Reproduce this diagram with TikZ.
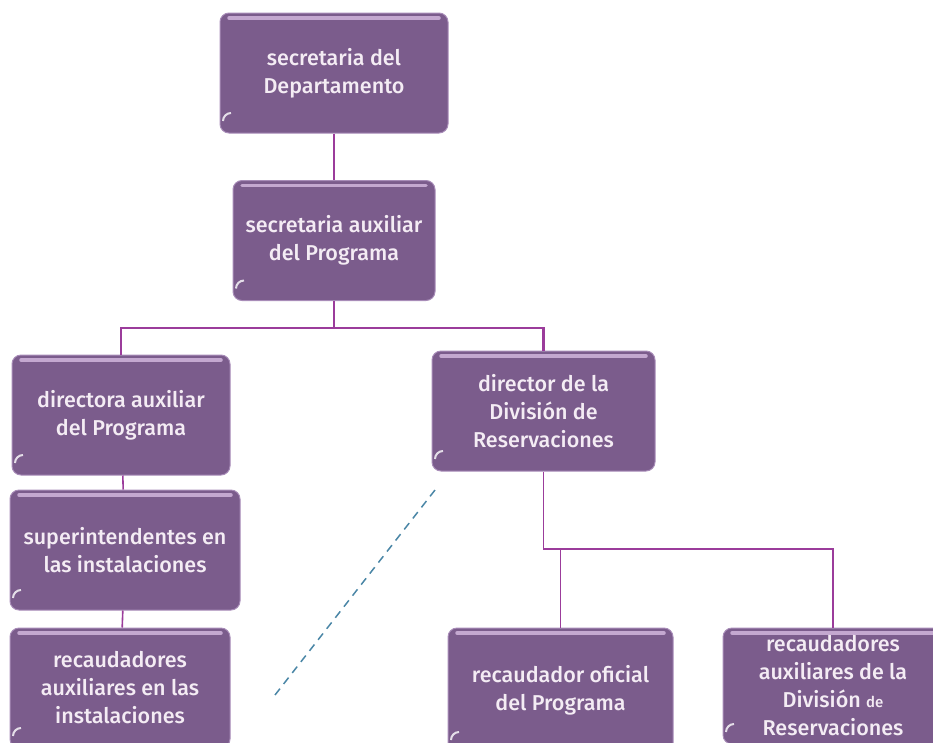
\documentclass[tikz,border=0pt]{standalone}
\usepackage{fontspec}
\setmainfont{Fira Sans}[UprightFont={* Medium}]
\usepackage{xcolor}
\definecolor{boxpurple}{HTML}{7B5C8C}
\definecolor{boxlight}{HTML}{C4A8D0}
\definecolor{boxedge}{HTML}{A88CB8}
\definecolor{linkpurple}{HTML}{9B3C9B}
\definecolor{dashblue}{HTML}{4A86A6}
\definecolor{boxtext}{HTML}{F4ECF4}
\begin{document}
\begin{tikzpicture}[x=1pt, y=-1pt, every node/.style={rectangle, rounded corners=9pt, fill=boxpurple, draw=boxedge, line width=1pt, text=boxtext, align=center, inner sep=0pt, minimum height=120pt, font=\fontsize{21.5}{28}\selectfont, path picture={\draw[boxlight, line width=3.5pt, line cap=round] ([xshift=9pt,yshift=-5pt]path picture bounding box.north west) -- ([xshift=-9pt,yshift=-5pt]path picture bounding box.north east); \draw[white!80!boxpurple, line width=2pt] ([xshift=3pt,yshift=12pt]path picture bounding box.south west) arc (180:90:8pt);}}, box/.style={minimum width=#1pt}, link/.style={draw=linkpurple, line width=2.2pt}]
	\useasboundingbox (0,0) rectangle (933,742);
	\clip (0,0) rectangle (933,742);
		\node[box=228](dept) at (334,73) {secretaria del\\Departamento};
		\node[box=202](auxsec) at (334,240.5) {secretaria auxiliar\\del Programa};
		\node[box=218](dirAux) at (121,415) {directora auxiliar\\del Programa};
		\node[box=230](superint) at (125,550) {superintendentes en\\las instalaciones};
		\node[box=220, minimum height=120pt](recInst) at (120,688) {recaudadores\\auxiliares en las\\instalaciones};
		\node[box=223](dirRes) at (543.5,411) {director de la\\División de\\Reservaciones};
		\node[box=225, minimum height=124pt](recOf) at (560.5,690) {recaudador oficial\\del Programa};
		\node[box=220, minimum height=116pt](recRes) at (833,686) {recaudadores\\auxiliares de la\\División {\fontsize{15}{28}\selectfont de}\\Reservaciones};
	\draw[link] (dept) -- (auxsec);
	\draw[link] (auxsec.south) -- ++(0,27) coordinate (fork);
	\draw[link] (dirAux.north) |- (fork) -| (dirRes.north);
	\draw[link, line width=1.6pt] (dirAux) -- (superint);
	\draw[link, line width=1.6pt] (superint) -- (recInst);
	\coordinate (split) at (543.5,549);
	\draw[link, line width=1.8pt] (dirRes.south) -- (split) -| (recRes.north);
	\draw[link, line width=1.8pt] (split -| recOf.north) -- (recOf.north);
	\coordinate (dashA) at (435,490);
	\coordinate (dashB) at (275,695);
	\draw[dashblue, line width=1.5pt, dash pattern=on 8pt off 6pt] (dashA) -- (dashB);
	\end{tikzpicture}
\end{document}
